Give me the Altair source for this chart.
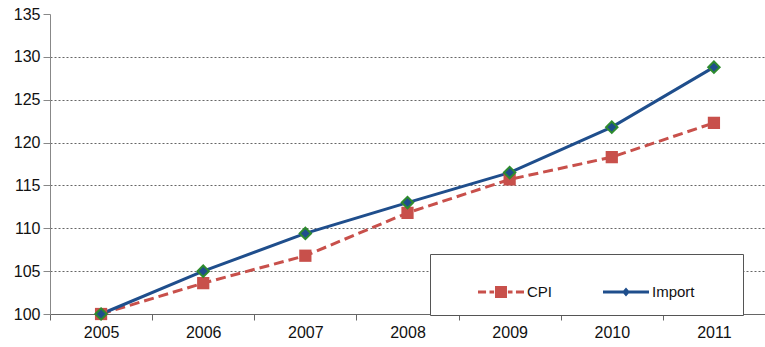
import altair as alt
import pandas as pd

years = ["2005", "2006", "2007", "2008", "2009", "2010", "2011"]
cpi = [100.0, 103.6, 106.8, 111.8, 115.7, 118.3, 122.3]
imports = [100.0, 105.0, 109.4, 113.0, 116.5, 121.8, 128.8]
series = ["CPI", "Import"]
colors = ["#C8504B", "#1F4E8C"]
y_ticks = [100, 105, 110, 115, 120, 125, 130, 135]

df = pd.DataFrame(
    {"year": years * 2,
     "value": cpi + imports,
     "series": ["CPI"] * len(years) + ["Import"] * len(years)}
)

FONT = "Liberation Sans"

x_enc = alt.X(
    "year:O",
    bandPosition=0.5,
    scale=alt.Scale(type="band", paddingInner=0, paddingOuter=0),
    axis=alt.Axis(title=None, labelAngle=0, tickBand="extent", tickSize=6,
                  domainColor="#666", tickColor="#666", labelPadding=4),
)
y_enc = alt.Y(
    "value:Q",
    scale=alt.Scale(domain=[100, 135], nice=False, zero=False),
    axis=alt.Axis(title=None, values=y_ticks, tickSize=7, labelPadding=3,
                  domainColor="#888", tickColor="#888",
                  gridColor="#666", gridDash=[2, 2], gridWidth=1,
                  gridOpacity=alt.condition("datum.value >= 135 || datum.value <= 100",
                                            alt.value(0), alt.value(1))),
)

base = alt.Chart(df).encode(x=x_enc, y=y_enc)

cpi_line = base.transform_filter("datum.series == 'CPI'").mark_line(
    color=colors[0], strokeWidth=3, strokeDash=[10, 5])
imp_line = base.transform_filter("datum.series == 'Import'").mark_line(
    color=colors[1], strokeWidth=3)
cpi_pts = base.transform_filter("datum.series == 'CPI'").mark_point(
    shape="square", filled=True, color=colors[0], size=150, opacity=1)
imp_pts = base.transform_filter("datum.series == 'Import'").mark_point(
    shape="diamond", filled=True, fill=colors[1], stroke="#2E8B2E",
    strokeWidth=2, size=130, opacity=1)

# legend symbols: line segment with the series marker in the middle
cpi_sym = ("M-1,-0.065H-0.65V0.065H-1Z M-0.5,-0.065H-0.3V0.065H-0.5Z "
           "M-0.26,-0.26H0.26V0.26H-0.26Z M0.3,-0.065H0.5V0.065H0.3Z "
           "M0.65,-0.065H1V0.065H0.65Z")
imp_sym = "M-1,-0.065H1V0.065H-1Z M0,-0.2L0.17,0L0,0.2L-0.17,0Z"

legend_layer = base.transform_filter("false").mark_point(
    filled=True, opacity=1, size=2116).encode(
    color=alt.Color("series:N", scale=alt.Scale(domain=series, range=colors),
                    legend=alt.Legend(
                        title="\u00a0", titleOrient="left", titlePadding=33,
                        orient="none", legendX=380, legendY=240,
                        direction="horizontal", strokeColor="#555",
                        padding=15, symbolSize=2116, symbolStrokeWidth=0,
                        symbolOpacity=1, columnPadding=50, labelOffset=3,
                        labelFontSize=15, labelFont=FONT, labelColor="#111",
                        labelExpr="datum.label == 'Import' ? datum.label + '\u2800\u2800\u2800' : datum.label",
                        fillColor="white")),
    shape=alt.Shape("series:N", scale=alt.Scale(domain=series, range=[cpi_sym, imp_sym])),
)

chart = alt.layer(cpi_line, imp_line, cpi_pts, imp_pts, legend_layer).properties(
    width=715, height=300,
    autosize=alt.AutoSizeParams(type="none"),
    padding={"left": 50, "top": 14, "right": 0, "bottom": 33},
    background="white",
).configure_view(stroke=None).configure_axis(
    labelFont=FONT, labelFontSize=16, labelColor="#111", grid=False
).configure_axisY(grid=True)

chart.save("out.html", embed_options={"renderer": "svg", "actions": False})
